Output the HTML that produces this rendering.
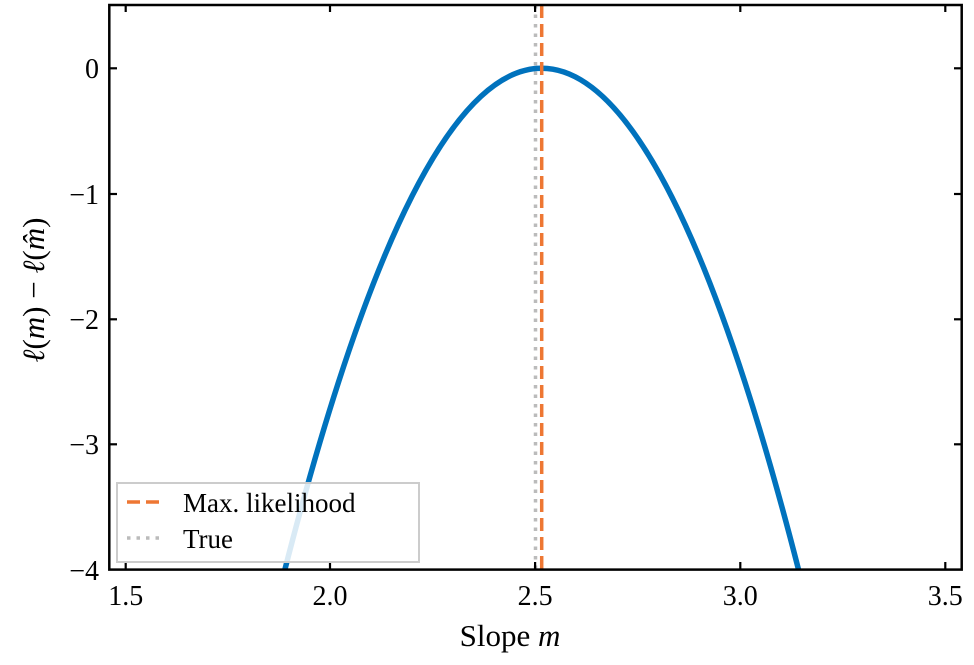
<!DOCTYPE html>
<html><head><meta charset="utf-8"><style>
body{margin:0;background:#fff}
svg text{font-family:"Liberation Serif",serif;fill:#000}
</style></head><body>
<svg width="974" height="660" viewBox="0 0 974 660" xmlns="http://www.w3.org/2000/svg">
<defs><clipPath id="c"><rect x="109.3" y="5" width="852.4" height="564.6"/></clipPath></defs>
<g clip-path="url(#c)">
<path d="M254.8,693.9 Q541.7,-557.3 828.6,693.9" fill="none" stroke="#0072BD" stroke-width="5.5"/>
<line x1="535.5" y1="5" x2="535.5" y2="570" stroke="#BBBBBB" stroke-width="3.5" stroke-dasharray="3.5,6"/>
<line x1="541.7" y1="5" x2="541.7" y2="570" stroke="#EE7733" stroke-width="3.5" stroke-dasharray="13,6"/>
</g>
<g stroke="#000" stroke-width="2.2">
<line x1="125.7" y1="569.6" x2="125.7" y2="562"/><line x1="330" y1="569.6" x2="330" y2="562"/><line x1="535.1" y1="569.6" x2="535.1" y2="562"/><line x1="740.3" y1="569.6" x2="740.3" y2="562"/><line x1="945.3" y1="569.6" x2="945.3" y2="562"/>
<line x1="125.7" y1="5" x2="125.7" y2="12"/><line x1="330" y1="5" x2="330" y2="12"/><line x1="535.1" y1="5" x2="535.1" y2="12"/><line x1="740.3" y1="5" x2="740.3" y2="12"/><line x1="945.3" y1="5" x2="945.3" y2="12"/>
<line x1="109.3" y1="68.3" x2="117" y2="68.3"/><line x1="109.3" y1="194" x2="117" y2="194"/><line x1="109.3" y1="319.3" x2="117" y2="319.3"/><line x1="109.3" y1="444.3" x2="117" y2="444.3"/>
<line x1="961.7" y1="68.3" x2="954" y2="68.3"/><line x1="961.7" y1="194" x2="954" y2="194"/><line x1="961.7" y1="319.3" x2="954" y2="319.3"/><line x1="961.7" y1="444.3" x2="954" y2="444.3"/>
</g>
<rect x="117" y="483" width="302" height="79" fill="#fff" fill-opacity="0.85" stroke="#ccc" stroke-width="2"/>
<line x1="127" y1="502" x2="164" y2="502" stroke="#EE7733" stroke-width="3.5" stroke-dasharray="13,6"/>
<line x1="127" y1="538" x2="164" y2="538" stroke="#BBBBBB" stroke-width="3.5" stroke-dasharray="3.5,6"/>
<text x="183" y="512" font-size="27">Max. likelihood</text>
<text x="183" y="548" font-size="27">True</text>
<rect x="109.3" y="5" width="852.4" height="564.6" fill="none" stroke="#000" stroke-width="2.5"/>
<g font-size="28" text-anchor="middle">
<text x="125.7" y="605">1.5</text><text x="330" y="605">2.0</text><text x="535.1" y="605">2.5</text><text x="740.3" y="605">3.0</text><text x="945.3" y="605">3.5</text>
</g>
<g font-size="28" text-anchor="end">
<text x="99" y="78">0</text><text x="99" y="204">−1</text><text x="99" y="329">−2</text><text x="99" y="454">−3</text><text x="99" y="580">−4</text>
</g>
<text x="510" y="646" font-size="31" text-anchor="middle">Slope <tspan font-style="italic">m</tspan></text>
<text transform="translate(44,290) rotate(-90)" font-size="31" text-anchor="middle"><tspan font-style="italic">ℓ</tspan>(<tspan font-style="italic">m</tspan>) − <tspan font-style="italic">ℓ</tspan>(<tspan font-style="italic">m̂</tspan>)</text>
</svg>
</body></html>
